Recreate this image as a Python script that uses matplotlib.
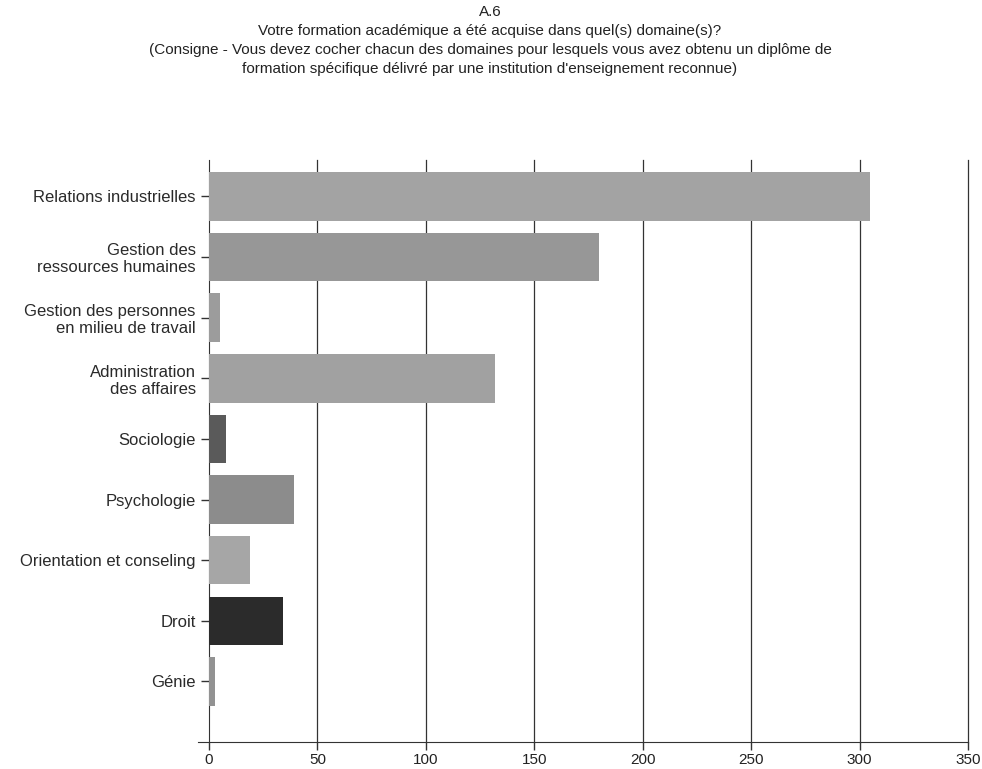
import matplotlib
matplotlib.use("Agg")
import matplotlib.pyplot as plt

# Domaines de formation et nombre de répondants
domaines = [
    "Relations industrielles",
    "Gestion des\nressources humaines",
    "Gestion des personnes\nen milieu de travail",
    "Administration\ndes affaires",
    "Sociologie",
    "Psychologie",
    "Orientation et conseling",
    "Droit",
    "Génie",
]
valeurs = [305, 180, 5, 132, 8, 39, 19, 34, 3]
couleurs = ["#a3a3a3", "#979797", "#9c9c9c", "#a1a1a1", "#5a5a5a",
            "#8c8c8c", "#a6a6a6", "#2b2b2b", "#929292"]
graduations = [0, 50, 100, 150, 200, 250, 300, 350]

titre = ("A.6\n"
         "Votre formation académique a été acquise dans quel(s) domaine(s)?\n"
         "(Consigne - Vous devez cocher chacun des domaines pour lesquels vous avez obtenu un diplôme de\n"
         "formation spécifique délivré par une institution d'enseignement reconnue)")

plt.rcParams['font.family'] = ['Liberation Sans', 'DejaVu Sans']

fig = plt.figure(figsize=(9.82, 7.69), dpi=100)
ax = fig.add_axes([0.2128, 0.035, 0.7729, 0.757])

pos = list(range(len(domaines)))
ax.barh(pos, valeurs, height=0.8, color=couleurs, zorder=3)

ax.set_xlim(0, 350)
ax.set_ylim(9.0, -0.6)
ax.set_xticks(graduations)
ax.set_xticklabels([str(g) for g in graduations], fontsize=11, color="#222222")
ax.set_yticks(pos)
ax.set_yticklabels(domaines, fontsize=12, color="#2a2a2a", linespacing=1.15)

# grille verticale
for g in graduations[1:]:
    ax.axvline(g, color="#333333", linewidth=0.9, zorder=1, clip_on=False)

ax.spines['top'].set_visible(False)
ax.spines['right'].set_visible(False)
ax.spines['left'].set_color("#333333")
ax.spines['bottom'].set_color("#333333")
ax.spines['bottom'].set_bounds(-5, 350)
ax.tick_params(axis='both', direction='out', length=6, color="#333333", width=1)
ax.tick_params(axis='x', pad=2)

fig.text(0.499, 0.993, titre, ha='center', va='top', fontsize=11,
         color="#222222", linespacing=1.45)

fig.savefig("out.png", dpi=100, facecolor="white")
